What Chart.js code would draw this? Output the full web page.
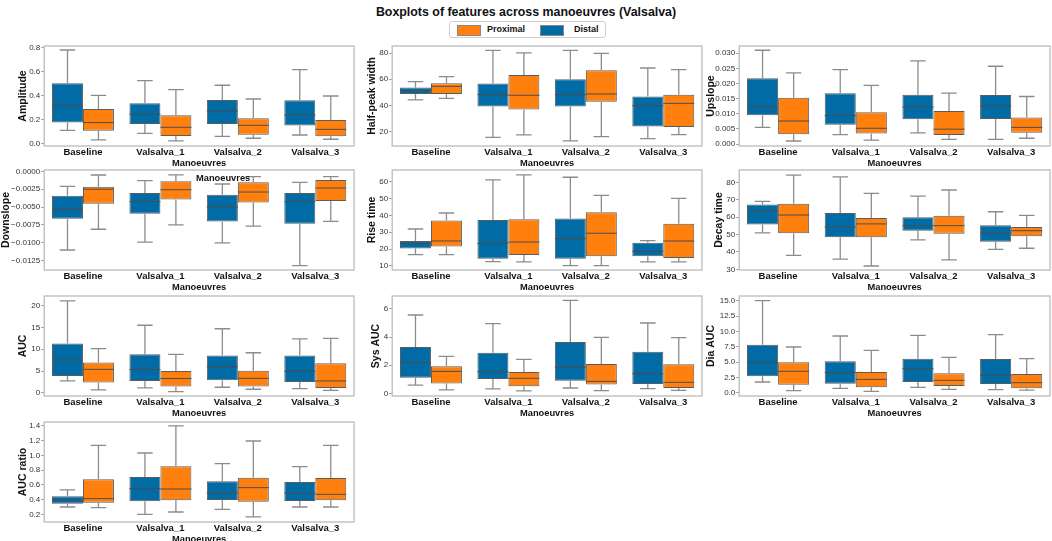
<!DOCTYPE html>
<html>
<head>
<meta charset="utf-8">
<script src="https://cdn.jsdelivr.net/npm/chart.js@4.4.1/dist/chart.umd.min.js"></script>
<style>
  body { margin: 0; background: #fff; width: 1052px; height: 541px; overflow: hidden; position: relative;
         font-family: "Liberation Sans", Arial, sans-serif; }
  canvas { position: absolute; }
  #title { position: absolute; left: 326px; width: 400px; top: 5px; text-align: center;
           font-weight: bold; font-size: 12.4px; color: #111; }
  #legend { position: absolute; left: 449px; top: 21px; width: 155px; height: 15px;
            border: 1px solid #cfcfcf; border-radius: 3px; font-size: 9px; font-weight: bold; color: #111; }
  #legend .sw { position: absolute; top: 3px; width: 22px; height: 9px; border: 1px solid #888; }
  #legend .tx { position: absolute; top: 2px; }
  #stray { position: absolute; left: 196px; top: 173px; font-size: 9.3px; font-weight: bold; color: #111; z-index: 5; }
</style>
</head>
<body>
<div id="title">Boxplots of features across manoeuvres (Valsalva)</div>
<div id="legend">
  <div class="sw" style="left:7px;background:#FF800E"></div><div class="tx" style="left:37px">Proximal</div>
  <div class="sw" style="left:90px;background:#006BA4"></div><div class="tx" style="left:124px">Distal</div>
</div>
<div id="stray">Manoeuvres</div>
<script>
// categories on the x axis
const categories = ['Baseline', 'Valsalva_1', 'Valsalva_2', 'Valsalva_3'];

// each entry: [lower whisker, Q1, median, Q3, upper whisker]
const amplitudeDistal   = [[0.113, 0.177, 0.317, 0.502, 0.778], [0.088, 0.166, 0.246, 0.337, 0.524], [0.063, 0.166, 0.273, 0.364, 0.486], [0.074, 0.152, 0.240, 0.361, 0.615]];
const amplitudeProximal = [[0.033, 0.110, 0.177, 0.290, 0.403], [0.025, 0.066, 0.138, 0.237, 0.450], [0.047, 0.077, 0.154, 0.212, 0.372], [0.039, 0.063, 0.121, 0.199, 0.397]];
const amplitudeTicks = [0, 0.2, 0.4, 0.6, 0.8];

const halfWidthDistal   = [[44.1, 48.7, 51.3, 53.6, 58.2], [15.4, 39.0, 48.2, 56.7, 82.3], [12.6, 39.0, 48.2, 60.0, 82.3], [14.4, 23.6, 39.7, 46.7, 68.7]];
const halfWidthProximal = [[45.4, 48.7, 54.6, 56.9, 62.1], [17.2, 36.7, 47.7, 63.3, 80.3], [15.9, 42.8, 48.7, 66.9, 80.0], [17.4, 23.3, 41.5, 48.2, 67.4]];
const halfWidthTicks = [20, 40, 60, 80];

const upslopeDistal   = [[0.0055, 0.0095, 0.0122, 0.0217, 0.0310], [0.0031, 0.0064, 0.0094, 0.0168, 0.0246], [0.0037, 0.0082, 0.0122, 0.0163, 0.0275], [0.0015, 0.0083, 0.0126, 0.0162, 0.0257]];
const upslopeProximal = [[0.0010, 0.0032, 0.0076, 0.0153, 0.0235], [0.0013, 0.0035, 0.0052, 0.0105, 0.0194], [0.0015, 0.0030, 0.0049, 0.0109, 0.0168], [0.0019, 0.0037, 0.0055, 0.0088, 0.0157]];
const upslopeTicks = [0, 0.005, 0.01, 0.015, 0.02, 0.025, 0.03];

const downslopeDistal   = [[-0.0110, -0.00662, -0.00527, -0.0034, -0.0021], [-0.0099, -0.00592, -0.00424, -0.00303, -0.0013], [-0.0100, -0.0070, -0.0050, -0.00326, -0.00177], [-0.0132, -0.00732, -0.00424, -0.00303, -0.00154]];
const downslopeProximal = [[-0.0081, -0.00452, -0.0025, -0.00215, -0.00051], [-0.0075, -0.00392, -0.00257, -0.0014, -0.0005], [-0.00765, -0.00434, -0.00289, -0.00154, -0.00075], [-0.0070, -0.00415, -0.00233, -0.00121, -0.00075]];
const downslopeTicks = [0, -0.0025, -0.005, -0.0075, -0.01, -0.0125];

const riseDistal   = [[16.7, 20.3, 23.2, 24.8, 31.9], [12.6, 14.2, 23.4, 37.3, 61.0], [10.2, 14.2, 26.2, 38.1, 62.6], [12.4, 15.7, 18.7, 23.8, 25.0]];
const riseProximal = [[16.7, 21.5, 24.8, 36.9, 41.4], [12.4, 16.5, 24.2, 37.7, 64.0], [10.2, 15.7, 29.4, 41.8, 51.9], [12.4, 14.7, 24.8, 35.1, 50.1]];
const riseTicks = [10, 20, 30, 40, 50, 60];

const decayDistal   = [[50.9, 55.7, 63.5, 67.2, 69.1], [35.9, 48.4, 54.3, 62.4, 83.1], [46.9, 52.2, 55.1, 59.9, 72.1], [41.5, 45.9, 50.9, 55.3, 63.1]];
const decayProximal = [[38.0, 50.7, 61.2, 67.7, 84.2], [31.9, 48.4, 56.1, 59.5, 73.7], [35.4, 50.5, 55.1, 60.8, 75.6], [42.1, 49.0, 52.2, 54.3, 61.0]];
const decayTicks = [30, 40, 50, 60, 70, 80];

const aucDistal   = [[2.75, 3.9, 7.56, 11.3, 21.1], [1.15, 2.75, 5.35, 8.85, 15.5], [1.3, 2.9, 6.0, 8.55, 14.7], [1.0, 2.5, 4.95, 8.6, 12.4]];
const aucProximal = [[0.7, 2.4, 5.4, 7.0, 10.15], [0.3, 1.45, 3.3, 5.0, 8.85], [0.85, 1.5, 3.35, 5.1, 9.2], [0.6, 1.15, 2.75, 6.8, 12.5]];
const aucTicks = [0, 5, 10, 15, 20];

const sysAucDistal   = [[0.59, 1.11, 2.18, 3.29, 5.57], [0.31, 1.02, 1.54, 2.89, 4.95], [0.38, 0.9, 1.85, 3.65, 6.61], [0.33, 0.66, 1.4, 2.96, 5.0]];
const sysAucProximal = [[0.24, 0.69, 1.56, 1.92, 2.63], [0.17, 0.5, 1.07, 1.52, 2.42], [0.19, 0.62, 0.85, 2.09, 3.98], [0.21, 0.38, 0.78, 2.06, 3.96]];
const sysAucTicks = [0, 2, 4, 6];

const diaAucDistal   = [[1.74, 2.66, 4.95, 7.83, 15.0], [0.71, 1.47, 3.26, 5.11, 9.24], [0.87, 1.74, 3.91, 5.54, 9.35], [0.49, 1.41, 2.83, 5.49, 9.46]];
const diaAucProximal = [[0.33, 1.3, 3.48, 4.95, 7.45], [0.22, 0.87, 2.17, 3.37, 6.9], [0.54, 1.09, 2.01, 3.15, 5.76], [0.43, 0.71, 1.63, 3.04, 5.54]];
const diaAucTicks = [0, 2.5, 5, 7.5, 10, 12.5, 15];

const ratioDistal   = [[0.303, 0.348, 0.393, 0.447, 0.533], [0.204, 0.38, 0.551, 0.708, 1.031], [0.272, 0.398, 0.492, 0.649, 0.888], [0.303, 0.384, 0.492, 0.64, 0.847]];
const ratioProximal = [[0.294, 0.362, 0.416, 0.676, 1.135], [0.236, 0.393, 0.546, 0.852, 1.396], [0.169, 0.375, 0.564, 0.699, 1.193], [0.303, 0.393, 0.474, 0.694, 1.135]];
const ratioTicks = [0.2, 0.4, 0.6, 0.8, 1.0, 1.2, 1.4];

const DISTAL = '#006BA4';
const PROXIMAL = '#FF800E';

Chart.defaults.font.family = '"Liberation Sans", Arial, sans-serif';

// plot frame positions on the page
const colX = [[44, 354], [392, 702], [739, 1050]];
const rowTop = [46, 170, 296, 422];
const plotH = 100;
const padTop = 8;
const xAxisH = 23;
const titleSize = 10.5;

const panels = [
  { label: 'Amplitude', d: amplitudeDistal, p: amplitudeProximal, ticks: amplitudeTicks, dec: 1, min: -0.017, max: 0.811, col: 0, row: 0, tx: 23 },
  { label: 'Half-peak width', d: halfWidthDistal, p: halfWidthProximal, ticks: halfWidthTicks, dec: 0, min: 8.7, max: 85.6, col: 1, row: 0, tx: 372 },
  { label: 'Upslope', d: upslopeDistal, p: upslopeProximal, ticks: upslopeTicks, dec: 3, min: -0.00066, max: 0.0324, col: 2, row: 0, tx: 711 },
  { label: 'Downslope', d: downslopeDistal, p: downslopeProximal, ticks: downslopeTicks, dec: 4, min: -0.0138, max: 0.00019, col: 0, row: 1, tx: 6 },
  { label: 'Rise time', d: riseDistal, p: riseProximal, ticks: riseTicks, dec: 0, min: 7.6, max: 66.9, col: 1, row: 1, tx: 372 },
  { label: 'Decay time', d: decayDistal, p: decayProximal, ticks: decayTicks, dec: 0, min: 29.6, max: 87.1, col: 2, row: 1, tx: 719 },
  { label: 'AUC', d: aucDistal, p: aucProximal, ticks: aucTicks, dec: 0, min: -0.7, max: 22.2, col: 0, row: 2, tx: 23 },
  { label: 'Sys AUC', d: sysAucDistal, p: sysAucProximal, ticks: sysAucTicks, dec: 0, min: -0.19, max: 6.92, col: 1, row: 2, tx: 376 },
  { label: 'Dia AUC', d: diaAucDistal, p: diaAucProximal, ticks: diaAucTicks, dec: 1, min: -0.54, max: 15.76, col: 2, row: 2, tx: 711 },
  { label: 'AUC ratio', d: ratioDistal, p: ratioProximal, ticks: ratioTicks, dec: 1, min: 0.101, max: 1.449, col: 0, row: 3, tx: 23 }
];

// whiskers, caps, medians and the grey frame
const boxPlugin = {
  id: 'boxWhiskers',
  afterDatasetsDraw(chart) {
    const ctx = chart.ctx;
    const y = chart.scales.y;
    chart.data.datasets.forEach((ds, i) => {
      const meta = chart.getDatasetMeta(i);
      meta.data.forEach((bar, j) => {
        const s = ds.stats[j];
        const x = bar.x, half = bar.width / 2;
        const py = v => y.getPixelForValue(v);
        ctx.save();
        ctx.strokeStyle = '#8c8c8c';
        ctx.lineWidth = 1.3;
        ctx.beginPath();
        ctx.moveTo(x, py(s[3])); ctx.lineTo(x, py(s[4]));
        ctx.moveTo(x, py(s[1])); ctx.lineTo(x, py(s[0]));
        ctx.moveTo(x - half / 2, py(s[4])); ctx.lineTo(x + half / 2, py(s[4]));
        ctx.moveTo(x - half / 2, py(s[0])); ctx.lineTo(x + half / 2, py(s[0]));
        ctx.stroke();
        ctx.strokeStyle = '#4d4d4d';
        ctx.lineWidth = 1;
        ctx.beginPath();
        ctx.moveTo(x - half, py(s[2])); ctx.lineTo(x + half, py(s[2]));
        ctx.stroke();
        ctx.restore();
      });
    });
    const a = chart.chartArea;
    ctx.save();
    ctx.strokeStyle = '#c4c4c4';
    ctx.lineWidth = 1.5;
    ctx.strokeRect(a.left, a.top, a.right - a.left, a.bottom - a.top);
    ctx.restore();
  }
};

function boxDataset(label, stats, color) {
  return {
    label: label,
    data: stats.map(s => [s[1], s[3]]),
    stats: stats,
    backgroundColor: color,
    borderColor: '#5c5c5c',
    borderWidth: 1,
    borderSkipped: false,
    categoryPercentage: 0.8,
    barPercentage: 1.0
  };
}

panels.forEach(pn => {
  const left = pn.tx - titleSize / 2;
  const [pl, pr] = colX[pn.col];
  const top = rowTop[pn.row] - padTop;
  const w = Math.round(pr - left + 1);
  const h = padTop + plotH + xAxisH;
  const cv = document.createElement('canvas');
  cv.width = w; cv.height = h;
  cv.style.left = left + 'px';
  cv.style.top = top + 'px';
  cv.style.width = w + 'px';
  cv.style.height = h + 'px';
  document.body.appendChild(cv);

  new Chart(cv.getContext('2d'), {
    type: 'bar',
    data: {
      labels: categories,
      datasets: [boxDataset('Distal', pn.d, DISTAL), boxDataset('Proximal', pn.p, PROXIMAL)]
    },
    options: {
      responsive: false,
      animation: false,
      layout: { padding: { top: padTop, right: 1, bottom: 0, left: 0 } },
      plugins: { legend: { display: false }, tooltip: { enabled: false } },
      scales: {
        x: {
          grid: { display: false, drawTicks: false },
          border: { display: false },
          ticks: { color: '#111', font: { size: 9.5, weight: 'bold' }, padding: 1, maxRotation: 0, autoSkip: false },
          title: { display: true, text: 'Manoeuvres', color: '#111', font: { size: 9.3, weight: 'bold', lineHeight: 1.2 }, padding: 0 },
          afterFit: s => { s.height = xAxisH; }
        },
        y: {
          min: pn.min,
          max: pn.max,
          grid: { display: true, drawOnChartArea: false, tickLength: 3, color: '#999' },
          border: { display: false },
          ticks: {
            color: '#333',
            font: { size: 8 },
            padding: 1,
            callback: v => (v < 0 ? '\u2212' : '') + Math.abs(v).toFixed(pn.dec)
          },
          afterBuildTicks: s => { s.ticks = pn.ticks.map(v => ({ value: v })); },
          title: { display: true, text: pn.label, color: '#111', font: { size: titleSize, weight: 'bold', lineHeight: 1 }, padding: 0 },
          afterFit: s => { s.width = pl - left; }
        }
      }
    },
    plugins: [boxPlugin]
  });
});
</script>
</body>
</html>
